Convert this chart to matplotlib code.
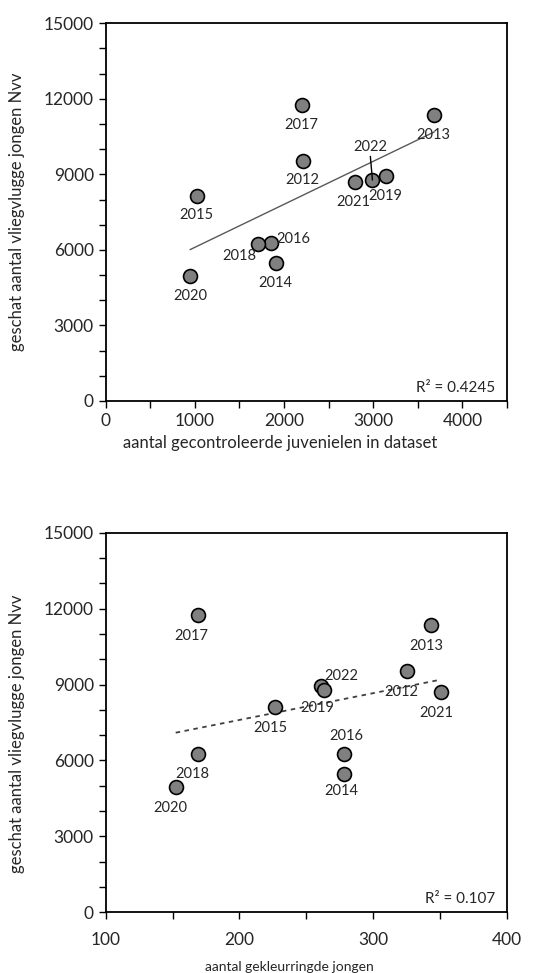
#import libraries
import matplotlib
matplotlib.use('Agg')
import matplotlib.pyplot as plt
import numpy as np

plt.rcParams['font.family'] = ['Lato', 'DejaVu Sans']

#Data Definition
jaren = ['2012', '2013', '2014', '2015', '2016', '2017', '2018', '2019', '2020', '2021', '2022']
nvv = [9535, 11360, 5480, 8128, 6265, 11740, 6246, 8940, 4950, 8710, 8775]
juvenielen = [2214, 3682, 1912, 1023, 1852, 2203, 1703, 3144, 948, 2801, 2991]
gekleurringd = [325.3, 343, 278.2, 226.5, 278.2, 168.7, 168.7, 260.8, 152.3, 350.4, 263.3]
r2_boven = 'R² = 0.4245'
r2_onder = 'R² = 0.107'

#label offsets (pixels) per year for both panels
off_boven = {'2012': (-1, -19), '2013': (-1, -20), '2014': (-1, -20), '2015': (-1, -19),
             '2016': (22, 4), '2017': (-1, -20), '2018': (-18, -12), '2019': (-1, -20),
             '2020': (0, -20), '2021': (-2, -20), '2022': (-2, 33)}
off_onder = {'2012': (-6, -21), '2013': (-4, -21), '2014': (-3, -17), '2015': (-5, -21),
             '2016': (2, 18), '2017': (-6, -21), '2018': (-5, -20), '2019': (-4, -22),
             '2020': (-5, -21), '2021': (-4, -21), '2022': (17, 14)}

#Create Figure
fig = plt.figure(figsize=(5.55, 9.73), dpi=100)
ax1 = fig.add_axes([0.1905, 0.5879, 0.7230, 0.3882])
ax2 = fig.add_axes([0.1905, 0.0624, 0.7230, 0.3901])

tekst = '#262626'


def paneel(ax, xs, offsets, stijl, r2):
    ax.scatter(xs, nvv, s=100, c='#808080', edgecolors='black', linewidths=1.2, zorder=3)
    # linear trend line over data range
    a, b = np.polyfit(xs, nvv, 1)
    xl = np.array([min(xs), max(xs)])
    if stijl == 'solid':
        ax.plot(xl, a * xl + b, color='#595959', lw=1.0, zorder=2)
    else:
        ax.plot(xl, a * xl + b, color='#404040', lw=1.3, linestyle=(0, (2.5, 2.5)), zorder=2)
    for j, x, y in zip(jaren, xs, nvv):
        dx, dy = offsets[j]
        ax.annotate(j, (x, y), xytext=(dx * 0.72, dy * 0.72), textcoords='offset points',
                    ha='center', va='center', fontsize=10.5, color=tekst, zorder=4)
    ax.text(0.97, 0.035, r2, transform=ax.transAxes, ha='right', va='center',
            fontsize=11, color=tekst)
    ax.set_ylim(0, 15000)
    ax.set_yticks(np.arange(0, 15001, 3000))
    ax.set_yticks(np.arange(0, 15001, 1000), minor=True)
    ax.tick_params(which='both', direction='out', length=5, width=1, colors='black',
                   labelcolor=tekst, labelsize=12.5)
    for s in ax.spines.values():
        s.set_linewidth(1.3)
        s.set_color('black')
    ax.set_ylabel('geschat aantal vliegvlugge jongen Nvv', fontsize=12, color=tekst,
                  va='center', ha='center')


#Create Plot
paneel(ax1, juvenielen, off_boven, 'solid', r2_boven)
ax1.set_xlim(0, 4500)
ax1.set_xticks(np.arange(0, 4001, 1000))
ax1.set_xticks(np.arange(0, 4501, 500), minor=True)
ax1.set_xlabel('aantal gecontroleerde juvenielen in dataset', fontsize=12, color=tekst,
               va='center')
ax1.xaxis.set_label_coords(0.434, -0.111)
ax1.yaxis.set_label_coords(-0.22, 0.5)
# leader line for 2022
i22 = jaren.index('2022')
ax1.annotate('', (juvenielen[i22], nvv[i22]), xytext=(-1.5, 17), textcoords='offset points',
             arrowprops=dict(arrowstyle='-', color='black', lw=1.0, shrinkA=0, shrinkB=0))

paneel(ax2, gekleurringd, off_onder, 'dotted', r2_onder)
ax2.set_xlim(100, 400)
ax2.set_xticks(np.arange(100, 401, 100))
ax2.set_xticks(np.arange(100, 401, 50), minor=True)
ax2.tick_params(axis='x', which='major', pad=9)
ax2.set_xlabel('aantal gekleurringde jongen', fontsize=10, color=tekst, va='center')
ax2.xaxis.set_label_coords(0.457, -0.144)
ax2.yaxis.set_label_coords(-0.222, 0.47)

#Show/Save Plot
plt.savefig('out.png', dpi=100)
